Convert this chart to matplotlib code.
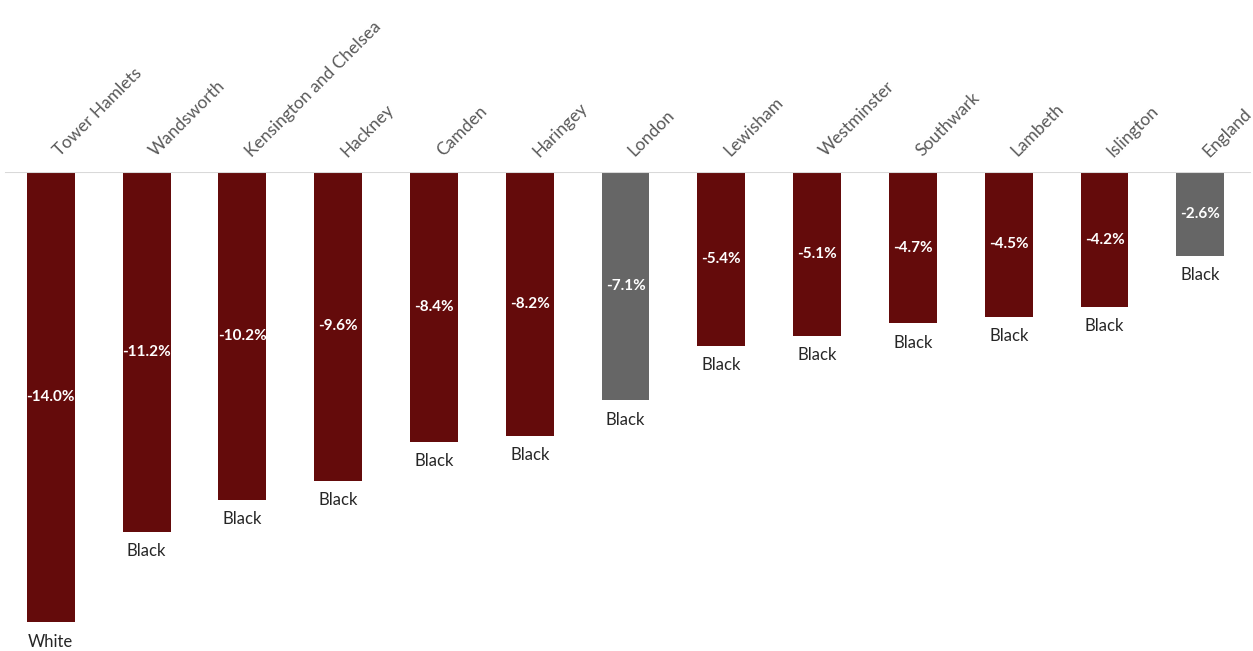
import matplotlib
matplotlib.use("Agg")
import matplotlib.pyplot as plt
import numpy as np

plt.rcParams['font.family'] = ['Lato', 'DejaVu Sans']

areas = ['Tower Hamlets', 'Wandsworth', 'Kensington and Chelsea', 'Hackney',
         'Camden', 'Haringey', 'London', 'Lewisham', 'Westminster',
         'Southwark', 'Lambeth', 'Islington', 'England']
change = [-14.0, -11.2, -10.2, -9.6, -8.4, -8.2, -7.1, -5.4, -5.1, -4.7, -4.5, -4.2, -2.6]
group = ['White', 'Black', 'Black', 'Black', 'Black', 'Black', 'Black',
         'Black', 'Black', 'Black', 'Black', 'Black', 'Black']
is_total = [False, False, False, False, False, False, True,
            False, False, False, False, False, True]

red = '#640B0B'
grey = '#666666'

fig = plt.figure(figsize=(12.53, 6.51), dpi=100)
ax = fig.add_axes([0.0, 0.0, 1.0, 1 - 172 / 651])

x = np.arange(len(areas))
colors = [grey if t else red for t in is_total]
ax.bar(x, change, width=0.5, color=colors, zorder=2)
ax.axhline(0, color='#D9D9D9', lw=1.5, xmin=0.005, xmax=0.998, zorder=3)

ax.set_xlim(-0.53, 12.55)
ax.set_ylim(-14.9, 0)
ax.axis('off')

for i, v in enumerate(change):
    ax.text(i, v / 2, f'{v:.1f}%', color='white', fontweight='bold',
            fontsize=11, ha='center', va='center', zorder=4)
    ax.annotate(group[i], (i, v), xytext=(0, -14), textcoords='offset points',
                ha='center', va='center', fontsize=12, color='#262626',
                annotation_clip=False)
    ax.annotate(areas[i], (i, 0), xytext=(4, 13), textcoords='offset points',
                ha='left', va='center', rotation=45, rotation_mode='anchor',
                fontsize=12.5, color='#595959', annotation_clip=False)

fig.savefig('out.png', dpi=100)
